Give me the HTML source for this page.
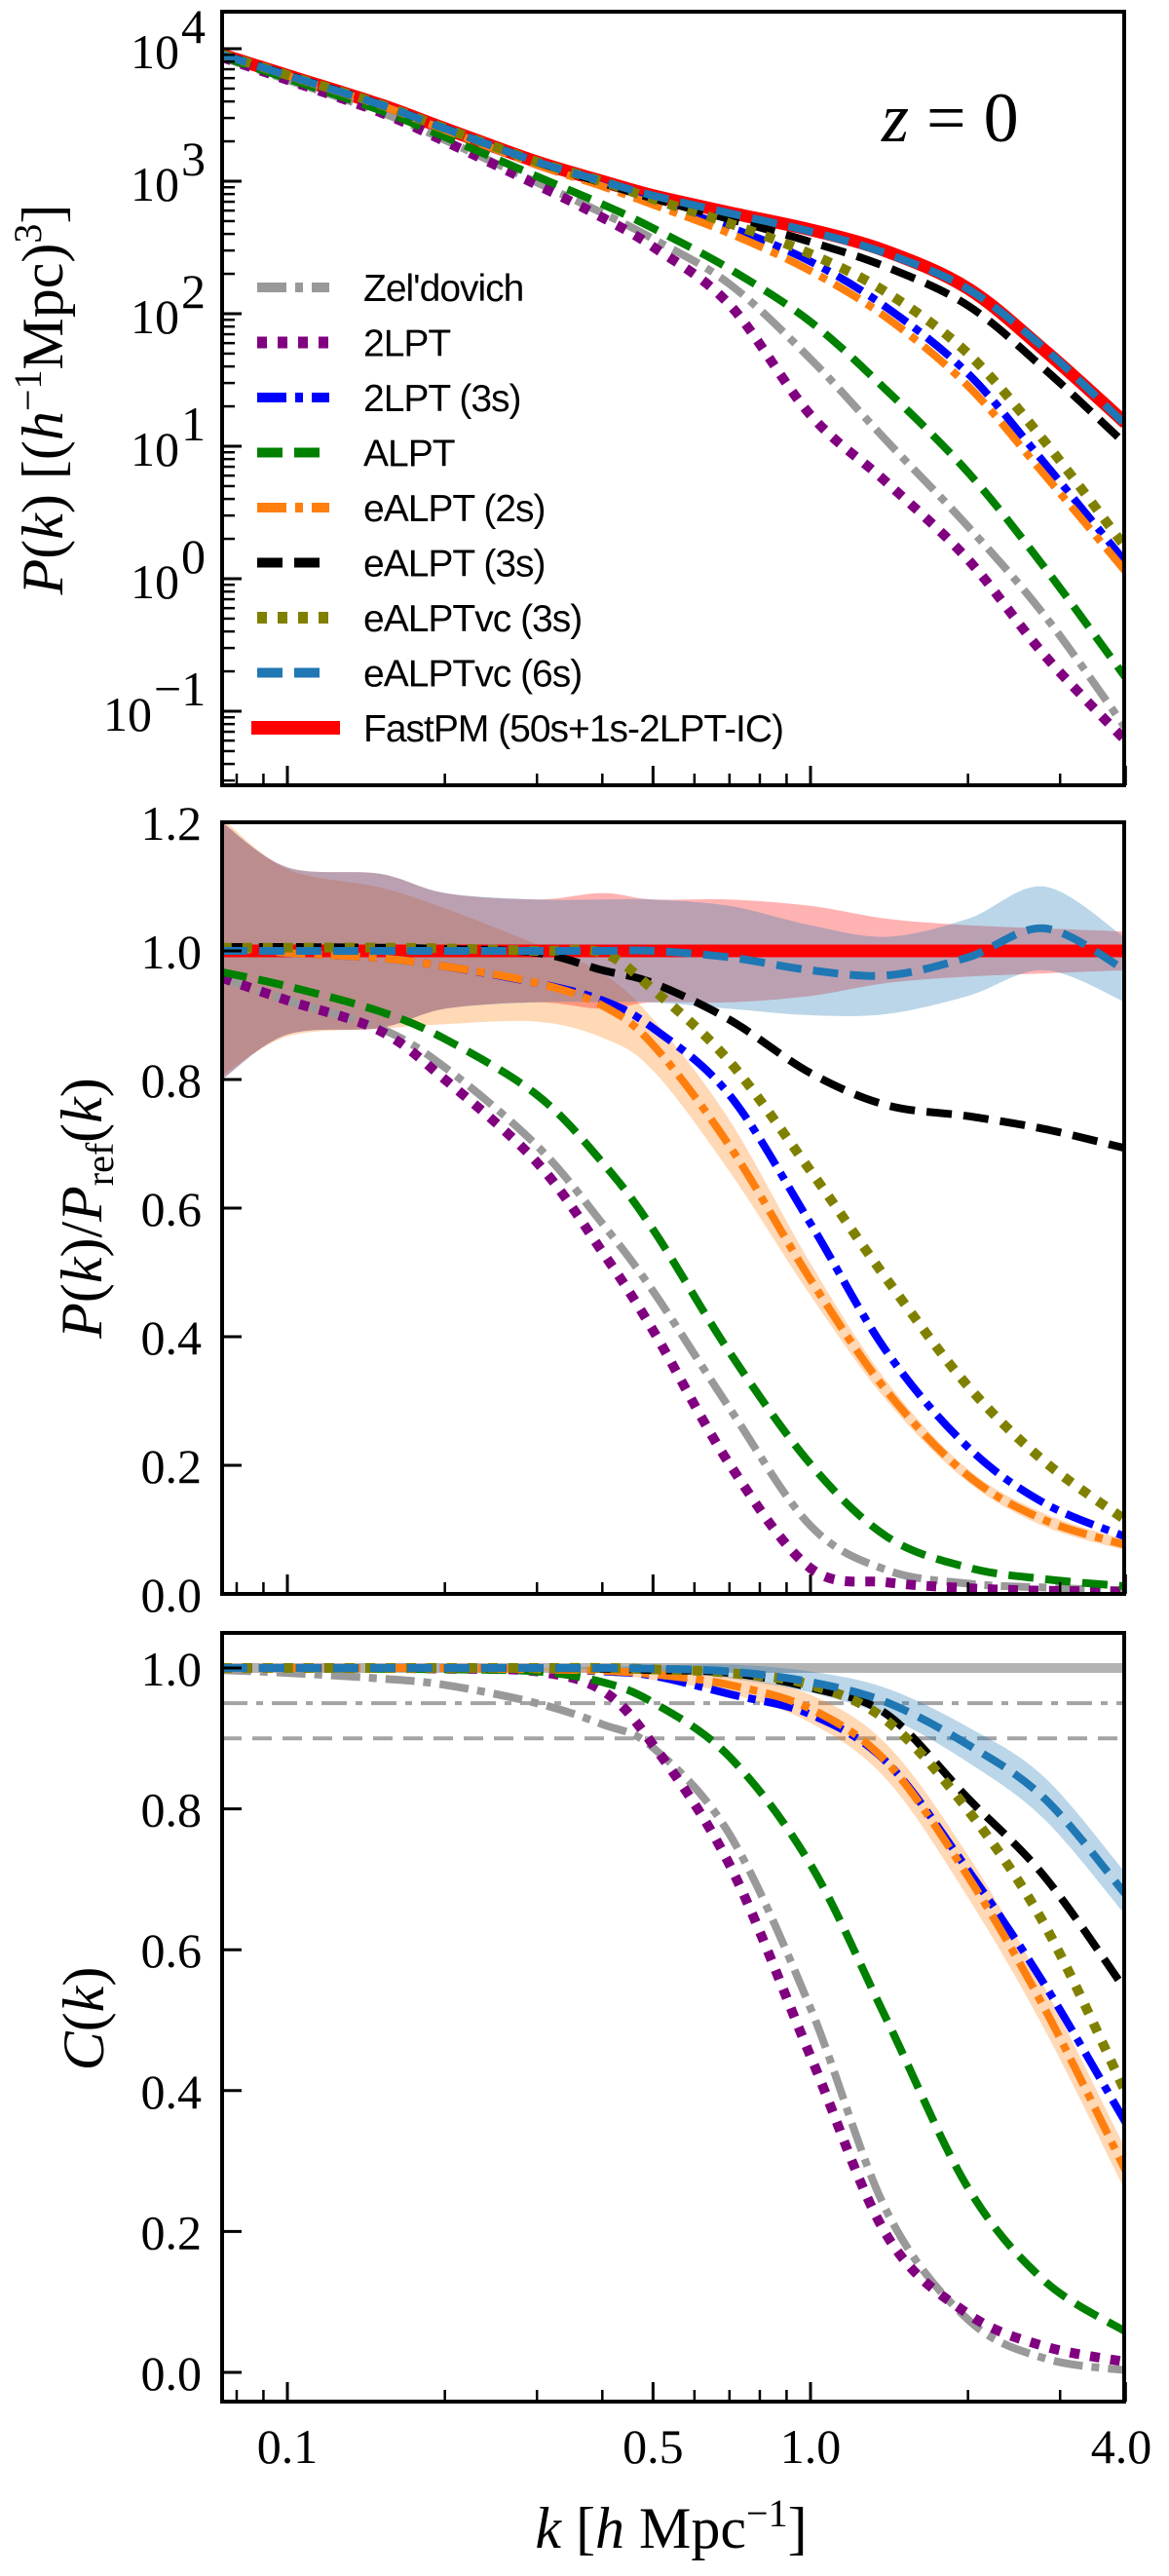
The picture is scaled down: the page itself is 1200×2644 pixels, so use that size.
<!DOCTYPE html>
<html><head><meta charset="utf-8"><title>Power spectrum comparison</title>
<style>
html,body{margin:0;padding:0;background:#fff;}
svg{display:block;}
.tl{font-family:"Liberation Serif",serif;font-size:50px;fill:#000;}
.lg{font-family:"Liberation Sans",sans-serif;font-size:39px;letter-spacing:-1px;fill:#000;}
.at{font-family:"Liberation Serif",serif;font-size:60px;fill:#000;}
</style></head>
<body>
<svg id="fig" width="1200" height="2644" viewBox="0 0 1200 2644" xmlns="http://www.w3.org/2000/svg">
<defs>
<clipPath id="c1"><rect x="228" y="12" width="926" height="794"/></clipPath>
<clipPath id="c2"><rect x="228" y="844" width="926" height="792"/></clipPath>
<clipPath id="c3"><rect x="228" y="1676" width="926" height="789"/></clipPath>
</defs>
<g id="p1"></g>
<g id="p2"></g>
<g id="p3"></g>

<text class="tl" x="905" y="145" style="font-size:72px"><tspan font-style="italic">z</tspan> = 0</text>

<text class="at" transform="translate(64,410) rotate(-90)" text-anchor="middle"><tspan font-style="italic">P</tspan>(<tspan font-style="italic">k</tspan>)  [(<tspan font-style="italic">h</tspan><tspan dy="-22" font-size="40">−1</tspan><tspan dy="22">Mpc)</tspan><tspan dy="-22" font-size="40">3</tspan><tspan dy="22">]</tspan></text>
<text class="at" transform="translate(104,1240) rotate(-90)" text-anchor="middle"><tspan font-style="italic">P</tspan>(<tspan font-style="italic">k</tspan>)/<tspan font-style="italic">P</tspan><tspan dy="12" font-size="40">ref</tspan><tspan dy="-12">(</tspan><tspan font-style="italic">k</tspan>)</text>
<text class="at" transform="translate(106,2072) rotate(-90)" text-anchor="middle"><tspan font-style="italic">C</tspan>(<tspan font-style="italic">k</tspan>)</text>
<text class="at" x="689" y="2615" text-anchor="middle"><tspan font-style="italic">k</tspan>  [<tspan font-style="italic">h</tspan> Mpc<tspan dy="-22" font-size="40">−1</tspan><tspan dy="22">]</tspan></text>
</svg>
<script>
const kVals=[0.075,0.1,0.15,0.2,0.3,0.4,0.5,0.7,1.0,1.4,2.0,2.8,4.0];
const Pref=[9000,6300,3800,2500,1400,1000,780,580,430,295,155,53,15];
const ratioZel=[0.958,0.923,0.88,0.819,0.697,0.576,0.471,0.289,0.106,0.037,0.016,0.01,0.005];
const ratio2LPT=[0.958,0.923,0.876,0.80,0.671,0.532,0.41,0.202,0.04,0.018,0.009,0.005,0.004];
const ratio2LPT3s=[1.006,0.997,0.989,0.976,0.95,0.923,0.88,0.776,0.576,0.376,0.228,0.141,0.089];
const ratioALPT=[0.967,0.945,0.906,0.863,0.776,0.671,0.567,0.376,0.202,0.089,0.041,0.023,0.012];
const ratioE2=[1.006,0.997,0.989,0.976,0.95,0.915,0.854,0.697,0.489,0.315,0.184,0.115,0.076];
const ratioE3=[1.006,1.006,1.005,1.003,0.997,0.97,0.95,0.893,0.81,0.76,0.743,0.723,0.693];
const ratioVC3=[1.005,1.005,1.005,1.004,1.0,0.997,0.94,0.828,0.658,0.489,0.323,0.206,0.115];
const ratioVC6=[1.0,1.0,1.0,1.0,1.0,1.0,1.0,0.99,0.97,0.962,0.99,1.035,0.97];
const ratioRef=[1,1,1,1,1,1,1,1,1,1,1,1,1];
const bandRef=[0.2,0.13,0.12,0.09,0.08,0.09,0.08,0.08,0.07,0.05,0.04,0.035,0.03];
const bandVC6=[0.2,0.13,0.12,0.09,0.08,0.08,0.08,0.08,0.07,0.06,0.06,0.065,0.05];
const bandE2=[0.2,0.13,0.11,0.09,0.06,0.05,0.04,0.04,0.025,0.015,0.01,0.01,0.008];
const corrZel=[0.997,0.993,0.985,0.976,0.95,0.92,0.887,0.764,0.517,0.228,0.075,0.02,0.003];
const corr2LPT=[1.0,1.0,1.0,0.999,0.995,0.968,0.891,0.721,0.449,0.194,0.083,0.037,0.015];
const corrALPT=[1,1,0.999,0.998,0.995,0.98,0.951,0.874,0.721,0.5,0.262,0.13,0.058];
const corr2LPT3s=[1,1,1,1,0.998,0.995,0.989,0.963,0.934,0.866,0.713,0.551,0.355];
const corrE2=[1,1,1,1,0.998,0.996,0.991,0.976,0.942,0.866,0.704,0.517,0.287];
const corrE3=[1,1,1,1,1,0.999,0.997,0.993,0.972,0.934,0.815,0.704,0.543];
const corrVC3=[1,1,1,1,1,1,0.998,0.993,0.976,0.925,0.798,0.636,0.398];
const corrVC6=[1,1,1,1,1,1,0.999,0.995,0.98,0.951,0.891,0.815,0.679];
const cbandVC6=[0,0,0,0,0,0.002,0.004,0.01,0.015,0.02,0.025,0.03,0.03];
const cbandE2=[0,0,0,0,0.002,0.004,0.008,0.012,0.02,0.025,0.03,0.03,0.03];
const refLevels=[1.0,0.95,0.9];
const xTickLabels=["0.1","0.5","1.0","4.0"];
const xTickVals=[0.1,0.5,1.0,4.0];
const ratioTicks=[0,0.2,0.4,0.6,0.8,1.0,1.2];
const corrTicks=[0,0.2,0.4,0.6,0.8,1.0];
const decadeTicks=[-1,0,1,2,3,4];
const seriesNames=["Zel'dovich","2LPT","2LPT (3s)","ALPT","eALPT (2s)","eALPT (3s)","eALPTvc (3s)","eALPTvc (6s)","FastPM (50s+1s-2LPT-IC)"];

const NS="http://www.w3.org/2000/svg";
const xs=k=>832+537*Math.log10(k);
const yP=p=>50+(4-Math.log10(p))*136;
const yR=r=>1636-r*660;
const yC=c=>2435-c*723;

const styles=[
 {c:"#999999",w:8,d:"30 9 8 9"},
 {c:"#800080",w:10,d:"10 11"},
 {c:"#0000ff",w:8,d:"30 9 8 9"},
 {c:"#008000",w:8,d:"26 12"},
 {c:"#ff7f0e",w:8,d:"30 9 8 9"},
 {c:"#000000",w:8,d:"26 12"},
 {c:"#808000",w:10,d:"10 11"},
 {c:"#1f77b4",w:8,d:"26 12"},
 {c:"#ff0000",w:13,d:""}
];
function el(tag,attrs,parent){const e=document.createElementNS(NS,tag);for(const a in attrs)e.setAttribute(a,attrs[a]);if(parent)parent.appendChild(e);return e;}
function cr(pts){
 let d="M"+pts[0][0].toFixed(1)+","+pts[0][1].toFixed(1);
 for(let i=0;i<pts.length-1;i++){
  const p0=pts[Math.max(0,i-1)],p1=pts[i],p2=pts[i+1],p3=pts[Math.min(pts.length-1,i+2)];
  const c1=[p1[0]+(p2[0]-p0[0])/6,p1[1]+(p2[1]-p0[1])/6];
  const c2=[p2[0]-(p3[0]-p1[0])/6,p2[1]-(p3[1]-p1[1])/6];
  d+="C"+c1[0].toFixed(1)+","+c1[1].toFixed(1)+" "+c2[0].toFixed(1)+","+c2[1].toFixed(1)+" "+p2[0].toFixed(1)+","+p2[1].toFixed(1);
 }
 return d;
}
function band(g,center,half,yf,color,name){
 const up=kVals.map((k,i)=>[xs(k),yf(center[i]+half[i])]);
 const lo=kVals.map((k,i)=>[xs(k),yf(center[i]-half[i])]).reverse();
 const d=cr(up)+"L"+lo[0][0]+","+lo[0][1]+cr(lo).replace(/^M[^C]*/,"")+"Z";
 const p=el("path",{d:d,fill:color,"fill-opacity":0.3,stroke:"none"},g);
 
 
}
function line(g,vals,yf,s,name){
 const pts=kVals.map((k,i)=>[xs(k),yf(vals[i])]);
 const p=el("path",{d:cr(pts),fill:"none",stroke:s.c,"stroke-width":s.w},g);
 if(s.d)p.setAttribute("stroke-dasharray",s.d);
 
 
}
function frame(g,y0,y1){
 const ax=el("g",{},g);
 
 
 const minors=[0.08,0.09,0.2,0.3,0.4,0.6,0.7,0.8,0.9,2,3];
 minors.forEach(k=>{el("line",{x1:xs(k),x2:xs(k),y1:y1,y2:y1-12,stroke:"#000","stroke-width":2.5},ax);});
 xTickVals.forEach(k=>{el("line",{x1:xs(k),x2:xs(k),y1:y1,y2:y1-20,stroke:"#000","stroke-width":3},ax);});
 const r=el("rect",{x:228,y:y0,width:926,height:y1-y0,fill:"none",stroke:"#000","stroke-width":4},g);
 
 
}
const names=["zeldovich","2lpt","2lpt-3s","alpt","ealpt-2s","ealpt-3s","ealptvc-3s","ealptvc-6s","fastpm"];
const ratios=[ratioZel,ratio2LPT,ratio2LPT3s,ratioALPT,ratioE2,ratioE3,ratioVC3,ratioVC6,ratioRef];
const corrOrder=[corrZel,corr2LPT,corr2LPT3s,corrALPT,corrE2,corrE3,corrVC3,corrVC6];
const drawOrder=[8,0,1,2,3,4,5,6,7];

// Panel 1
const g1=document.getElementById("p1");
const c1=el("g",{"clip-path":"url(#c1)"},g1);
drawOrder.forEach(i=>{
 const vals=Pref.map((p,j)=>p*ratios[i][j]);
 line(c1,vals,yP,styles[i],"power-line-"+names[i]);
});
frame(g1,12,806);
const yt1=el("g",{},g1);


decadeTicks.forEach(e=>{
 const y=yP(Math.pow(10,e));
 el("line",{x1:228,x2:248,y1:y,y2:y,stroke:"#000","stroke-width":3},yt1);
 const bx=e<0?156:184;
 const t=el("text",{class:"tl",x:bx,y:y+20,"text-anchor":"end"},yt1);
 t.textContent="10";
 const s=el("text",{class:"tl",x:bx+2,y:y-6,"font-size":"33"},yt1);
 s.textContent=e<0?"−"+(-e):String(e);
});
for(let e=-2;e<=4;e++)for(let m=2;m<=9;m++){
 const y=yP(m*Math.pow(10,e));
 if(y>14&&y<804)el("line",{x1:228,x2:241,y1:y,y2:y,stroke:"#000","stroke-width":2.5},yt1);
}
// legend
const lg=el("g",{},g1);


seriesNames.forEach((n,i)=>{
 const y=295+i*56.5;
 const e=el("g",{},lg);
 
 
 const s=styles[i];
 const ln=el("line",{x1:i==8?258:264,x2:i==8?349:338,y1:y,y2:y,stroke:s.c,"stroke-width":i==8?14:s.w+2},e);
 if(s.d)ln.setAttribute("stroke-dasharray",s.d);
 const t=el("text",{class:"lg",x:373,y:y+14},e);
 t.textContent=n;
});

// Panel 2
const g2=document.getElementById("p2");
const c2=el("g",{"clip-path":"url(#c2)"},g2);
band(c2,ratioE2,bandE2,yR,"#ff7f0e","ratio-band-ealpt-2s");
band(c2,ratioRef,bandRef,yR,"#ff0000","ratio-band-fastpm");
band(c2,ratioVC6,bandVC6,yR,"#1f77b4","ratio-band-ealptvc-6s");
drawOrder.forEach(i=>line(c2,ratios[i],yR,styles[i],"ratio-line-"+names[i]));
frame(g2,844,1636);
const yt2=el("g",{},g2);


ratioTicks.forEach(v=>{
 const y=yR(v);
 el("line",{x1:228,x2:248,y1:y,y2:y,stroke:"#000","stroke-width":3},yt2);
 const t=el("text",{class:"tl",x:207,y:y+18,"text-anchor":"end"},yt2);
 t.textContent=v.toFixed(1);
});

// Panel 3
const g3=document.getElementById("p3");
const c3=el("g",{"clip-path":"url(#c3)"},g3);
const refStyles=[{w:10,d:"",o:0.75},{w:4,d:"26 9 7 9",o:0.9},{w:4,d:"20 11",o:0.9}];
refLevels.forEach((v,i)=>{
 const l=el("line",{x1:228,x2:1154,y1:yC(v),y2:yC(v),stroke:"#999999","stroke-width":refStyles[i].w,"stroke-opacity":refStyles[i].o},c3);
 if(refStyles[i].d)l.setAttribute("stroke-dasharray",refStyles[i].d);
 
 
});
band(c3,corrVC6,cbandVC6,yC,"#1f77b4","corr-band-ealptvc-6s");
band(c3,corrE2,cbandE2,yC,"#ff7f0e","corr-band-ealpt-2s");
[0,1,2,3,4,5,6,7].forEach(i=>line(c3,corrOrder[i],yC,styles[i],"corr-line-"+names[i]));
frame(g3,1676,2465);
const yt3=el("g",{},g3);


corrTicks.forEach(v=>{
 const y=yC(v);
 el("line",{x1:228,x2:248,y1:y,y2:y,stroke:"#000","stroke-width":3},yt3);
 const t=el("text",{class:"tl",x:207,y:y+18,"text-anchor":"end"},yt3);
 t.textContent=v.toFixed(1);
});
const xl=el("g",{},g3);


xTickVals.forEach((k,i)=>{
 const t=el("text",{class:"tl",x:Math.min(xs(k),1151),y:2528,"text-anchor":"middle"},xl);
 t.textContent=xTickLabels[i];
});
</script>
</body></html>
